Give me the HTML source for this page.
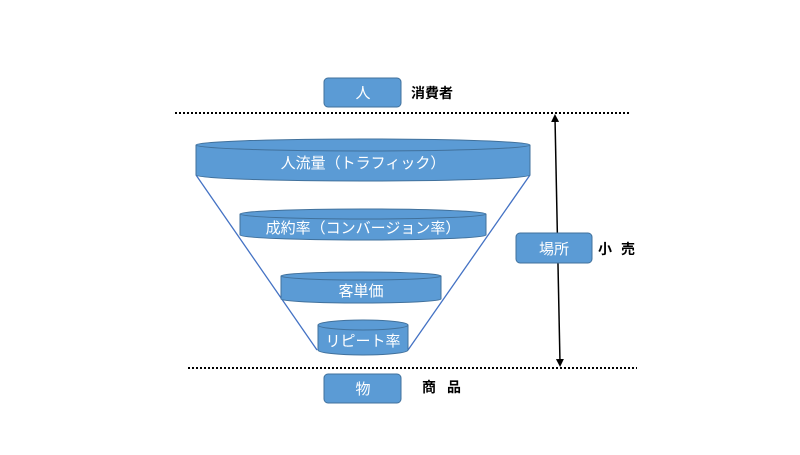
<!DOCTYPE html>
<html><head><meta charset="utf-8"><style>
body{margin:0;background:#fff}
svg text{font-family:"Liberation Sans","Noto Sans CJK JP",sans-serif}
</style></head><body>
<svg width="800" height="450" viewBox="0 0 800 450" xmlns="http://www.w3.org/2000/svg">
<defs>
<marker id="ah" markerWidth="8" markerHeight="8" refX="4" refY="4" orient="auto-start-reverse" markerUnits="userSpaceOnUse">
<path d="M0,0 L8,4 L0,8 z" fill="#000"/></marker>
</defs>
<line x1="175" y1="113" x2="630" y2="113" stroke="#000" stroke-width="2" stroke-dasharray="2,2"/>
<line x1="188" y1="368" x2="637" y2="368" stroke="#000" stroke-width="2" stroke-dasharray="2,2"/>
<line x1="555" y1="118" x2="560" y2="363" stroke="#000" stroke-width="1.5" marker-start="url(#ah)" marker-end="url(#ah)"/>
<line x1="196" y1="175" x2="317" y2="350" stroke="#4472c4" stroke-width="1.3"/>
<line x1="530" y1="175" x2="408" y2="350" stroke="#4472c4" stroke-width="1.3"/>
<g fill="#5b9bd5" stroke="#41719c" stroke-width="1">
<path d="M196,145 L196,175 A167,6 0 0 0 530,175 L530,145"/>
<ellipse cx="363" cy="145" rx="167" ry="6"/>
<path d="M240,214 L240,235 A123,5 0 0 0 486,235 L486,214"/>
<ellipse cx="363" cy="214" rx="123" ry="5"/>
<path d="M281,276 L281,299 A80,4 0 0 0 441,299 L441,276"/>
<ellipse cx="361" cy="276" rx="80" ry="4"/>
<path d="M318,325 L318,350 A45,5 0 0 0 408,350 L408,325"/>
<ellipse cx="363" cy="325" rx="45" ry="5"/>
<rect x="324" y="78" width="77" height="29" rx="4"/>
<rect x="324" y="374" width="77" height="29" rx="4"/>
<rect x="516" y="233" width="76" height="30" rx="4"/>
</g>
<g fill="#fff" font-size="15" text-anchor="middle">
<text x="363" y="168">人流量（トラフィック）</text>
<text x="363" y="233">成約率（コンバージョン率）</text>
<text x="361" y="296">客単価</text>
<text x="363" y="346">リピート率</text>
<text x="363" y="98">人</text>
<text x="363" y="394">物</text>
<text x="554" y="254">場所</text>
</g>
<g fill="#000" font-size="14" font-weight="bold">
<text x="411" y="98">消費者</text>
<text x="422" y="392">商</text><text x="447" y="392">品</text>
<text x="598" y="254">小</text><text x="621" y="254">売</text>
</g>
</svg>
</body></html>
